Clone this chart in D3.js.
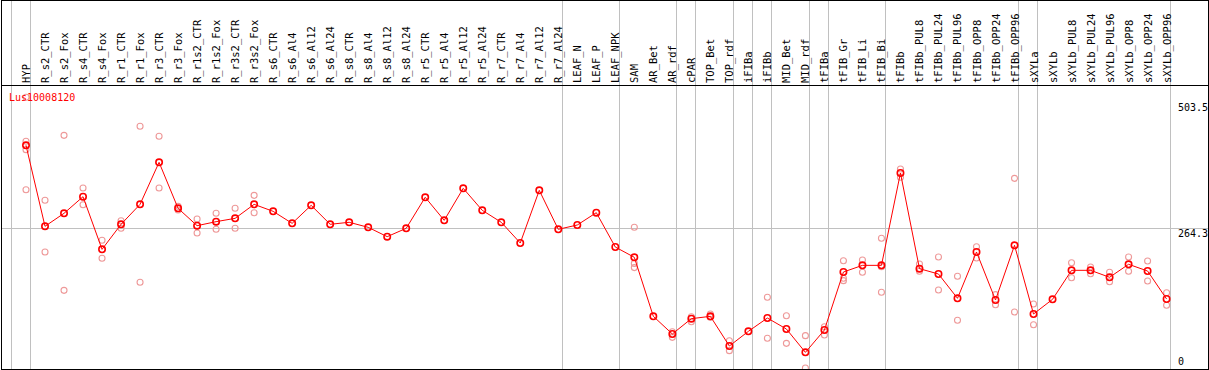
<!DOCTYPE html>
<html>
<head>
<meta charset="utf-8">
<script src="https://cdn.jsdelivr.net/npm/d3@7"></script>
<style>
	body { margin: 0; background: #fff; }
	svg { display: block; }
	text { font-family: 'DejaVu Sans Mono', monospace; }
</style>
</head>
<body>
<svg id="chart"></svg>
<script>
'use strict';

var geneId = 'Lus10008120';

var categories = [
	'HYP', 'R_s2_CTR', 'R_s2_Fox', 'R_s4_CTR', 'R_s4_Fox', 'R_r1_CTR', 'R_r1_Fox',
	'R_r3_CTR', 'R_r3_Fox', 'R_r1s2_CTR', 'R_r1s2_Fox', 'R_r3s2_CTR', 'R_r3s2_Fox',
	'R_s6_CTR', 'R_s6_Al4', 'R_s6_Al12', 'R_s6_Al24', 'R_s8_CTR', 'R_s8_Al4',
	'R_s8_Al12', 'R_s8_Al24', 'R_r5_CTR', 'R_r5_Al4', 'R_r5_Al12', 'R_r5_Al24',
	'R_r7_CTR', 'R_r7_Al4', 'R_r7_Al12', 'R_r7_Al24', 'LEAF_N', 'LEAF_P', 'LEAF_NPK',
	'SAM', 'AR_Bet', 'AR_rdf', 'cPAR', 'TOP_Bet', 'TOP_rdf', 'iFIBa', 'iFIBb',
	'MID_Bet', 'MID_rdf', 'tFIBa', 'tFIB_Gr', 'tFIB_Li', 'tFIB_Bi', 'tFIBb',
	'tFIBb_PUL8', 'tFIBb_PUL24', 'tFIBb_PUL96', 'tFIBb_OPP8', 'tFIBb_OPP24', 'tFIBb_OPP96',
	'sXYLa', 'sXYLb', 'sXYLb_PUL8', 'sXYLb_PUL24', 'sXYLb_PUL96', 'sXYLb_OPP8',
	'sXYLb_OPP24', 'sXYLb_OPP96'
];

// mean expression per sample
var means = [
	421.5, 268.2, 292.8, 324.3, 224.6, 272.0, 309.8, 389.3, 302.2, 269.4, 277.0, 283.3, 309.8,
	296.5, 273.8, 307.9, 272.0, 275.8, 266.3, 248.6, 264.4, 323.1, 279.5, 340.1, 298.5,
	275.8, 236.6, 336.3, 262.5, 270.7, 294.0, 229.0,
	209.5, 97.8, 64.4, 93.4, 97.8, 41.6, 69.4, 94.6, 73.8, 29.6, 71.9,
	181.7, 194.3, 194.3, 369.1, 188.0, 177.9, 131.9, 219.6, 128.7, 232.3,
	102.2, 130.0, 184.9, 184.9, 171.7, 196.3, 183.6, 130.6
];

// single replicates per sample (empty = none shown)
var replicates = [
	[512.4, 429.1, 413.3, 337.5], [317.4, 219.6], [440.4, 147.0], [340.7, 309.1],
	[241.7, 207.6], [278.8, 264.4], [457.5, 162.2], [438.6, 340.7], [306.0, 299.0],
	[282.0, 255.5], [292.8, 262.5], [302.3, 264.4], [326.8, 294.0],
	[], [], [], [], [], [], [], [], [], [], [], [], [], [], [], [], [], [], [],
	[266.3, 198.0, 190.0], [], [68.7, 58.0], [97.1, 87.6], [102.2, 96.0], [51.7, 32.8],
	[], [133.8, 56.2], [99.0, 46.7], [61.2, 0], [78.2, 62.5],
	[203.1, 169.8, 165.3], [204.4, 181.1], [245.5, 191.8, 143.3], [376.7, 361.0],
	[196.9, 183.0], [210.1, 147.6], [173.6, 90.3], [229.6, 208.2], [138.8, 119.8],
	[359.0, 106.0], [121.1, 82.0], [], [199.3, 170.9], [191.2, 178.5], [181.1, 163.4],
	[210.1, 183.0], [202.5, 164.7], [142.5, 118.7]
];

var yTicks = [503.5, 264.3, 0];
var yGrid = [264.3];

// a grey separator is drawn after each of these samples
var groupEnds = [
	'HYP', 'R_r7_Al24', 'LEAF_NPK', 'AR_rdf', 'cPAR', 'TOP_rdf', 'iFIBa', 'iFIBb',
	'MID_rdf', 'tFIBa', 'tFIB_Bi', 'tFIBb_OPP96', 'sXYLa', 'sXYLb_OPP96'
];

var width = 1209, height = 370;
var headerY = 85.5;
var bottomY = 369.5;

var svg = d3.select('#chart')
	.attr('width', width)
	.attr('height', height);

var x = d3.scalePoint()
	.domain(categories)
	.range([26, 1166.6]);
var y = d3.scaleLinear()
	.domain([0, 503.5])
	.range([368, 102]);
var step = x.step();

function crisp(v) { return Math.round(v) - 0.5; }

/* separators */
var seps = [x(categories[0]) - step + step / 4].concat(groupEnds.map(function(c) {
	return x(c) + step / 4;
}));
svg.append('g')
	.selectAll('line')
	.data(seps)
	.enter()
	.append('line')
	.attr('x1', crisp).attr('x2', crisp)
	.attr('y1', 0).attr('y2', bottomY)
	.attr('stroke', '#c0c0c0')
	.attr('stroke-width', 1);

svg.append('g')
	.selectAll('line')
	.data(yGrid)
	.enter()
	.append('line')
	.attr('x1', 1.5).attr('x2', 1208)
	.attr('y1', function(d) { return Math.round(y(d)) + 0.5; })
	.attr('y2', function(d) { return Math.round(y(d)) + 0.5; })
	.attr('stroke', '#c0c0c0')
	.attr('stroke-width', 1);

/* replicate points */
var repPts = [];
replicates.forEach(function(list, i) {
	list.forEach(function(v) { repPts.push({ cat: categories[i], v: v }); });
});
svg.append('g')
	.selectAll('circle')
	.data(repPts)
	.enter()
	.append('circle')
	.attr('cx', function(d) { return x(d.cat); })
	.attr('cy', function(d) { return y(d.v); })
	.attr('r', 3)
	.attr('fill', 'none')
	.attr('stroke', '#ee9999')
	.attr('stroke-width', 1.1);

/* mean line + points */
var line = d3.line()
	.x(function(d, i) { return x(categories[i]); })
	.y(function(d) { return y(d); });

svg.append('path')
	.datum(means)
	.attr('d', line)
	.attr('fill', 'none')
	.attr('stroke', '#ff0000')
	.attr('stroke-width', 1);

svg.append('g')
	.selectAll('circle')
	.data(means)
	.enter()
	.append('circle')
	.attr('cx', function(d, i) { return x(categories[i]); })
	.attr('cy', function(d) { return y(d); })
	.attr('r', 3.2)
	.attr('fill', 'none')
	.attr('stroke', '#ff0000')
	.attr('stroke-width', 1.6);

/* sample labels */
svg.append('g')
	.selectAll('text')
	.data(categories)
	.enter()
	.append('text')
	.attr('transform', function(d) { return 'translate(' + (x(d) + 4) + ',83) rotate(-90)'; })
	.attr('font-size', '10.5px')
	.attr('fill', '#000')
	.text(function(d) { return d; });

/* value labels */
svg.append('g')
	.selectAll('text')
	.data(yTicks)
	.enter()
	.append('text')
	.attr('x', 1178)
	.attr('y', function(d) { return Math.min(y(d) + 9, 365); })
	.attr('font-size', '10px')
	.attr('fill', '#000')
	.text(function(d) { return d; });

svg.append('text')
	.attr('x', 9)
	.attr('y', 101)
	.attr('font-size', '10px')
	.attr('fill', '#ff0000')
	.text(geneId);

/* frame */
svg.append('rect')
	.attr('x', 1.5).attr('y', 0.5)
	.attr('width', 1207).attr('height', bottomY - 0.5)
	.attr('fill', 'none')
	.attr('stroke', '#000')
	.attr('stroke-width', 1);
svg.append('line')
	.attr('x1', 1.5).attr('x2', 1208.5)
	.attr('y1', headerY).attr('y2', headerY)
	.attr('stroke', '#000')
	.attr('stroke-width', 1);
</script>
</body>
</html>
